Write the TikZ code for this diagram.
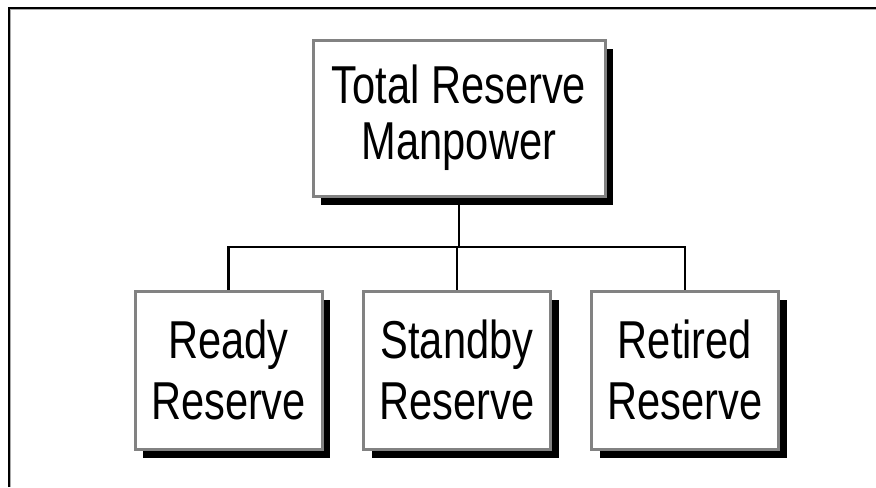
\documentclass[tikz,border=0pt]{standalone}
\usepackage{fontspec}
\usepackage{graphicx}
\setmainfont{Liberation Sans}
\usetikzlibrary{shadows}
\definecolor{boxgray}{RGB}{130,130,130}
\definecolor{framegray}{RGB}{170,170,170}
\pgfdeclarelayer{background}
\pgfsetlayers{background,main}
\newcommand{\cond}[1]{\scalebox{0.78}[1]{#1}}
\tikzset{
  orgbox/.style={draw=boxgray, line width=2.25pt, fill=white, align=center,
    inner sep=0pt,
    font=\fontsize{40pt}{46pt}\selectfont,
    drop shadow={shadow xshift=6pt, shadow yshift=-6.5pt, opacity=1, fill=black}},
  topbox/.style={orgbox, minimum width=219pt, minimum height=117pt},
  lowbox/.style={orgbox, minimum width=140.25pt, minimum height=118.5pt},
  link/.style={line width=2.2pt, black},
  framebk/.style={line width=1.6pt, black},
  framein/.style={line width=0.8pt, framegray}
}
\begin{document}
\begin{tikzpicture}[x=0.75pt, y=-0.75pt]
\useasboundingbox (0,0) rectangle (876,487);
% frame
\draw[framebk] (9,487) -- (9,8) -- (876,8);
\draw[framein] (10.8,487) -- (10.8,9.8) -- (876,9.8);
% boxes
\node[topbox] (top) at (459,118) {\cond{Total Reserve}\\[-4pt]\cond{Manpower}};
\node[lowbox] (ready) at (228.5,370) {\cond{Ready}\\\cond{Reserve}};
\node[lowbox] (standby) at (457,370) {\cond{Standby}\\\cond{Reserve}};
\node[lowbox] (retired) at (685,370) {\cond{Retired}\\\cond{Reserve}};
\coordinate (bar) at (459,247);
\begin{pgfonlayer}{background}
\draw[link] (top.south) -- (bar);
\draw[link] (ready.north) -- (ready.north |- bar) -- (retired.north |- bar) -- (retired.north);
\draw[link] (standby.north) -- (standby.north |- bar);
\end{pgfonlayer}
\end{tikzpicture}
\end{document}
